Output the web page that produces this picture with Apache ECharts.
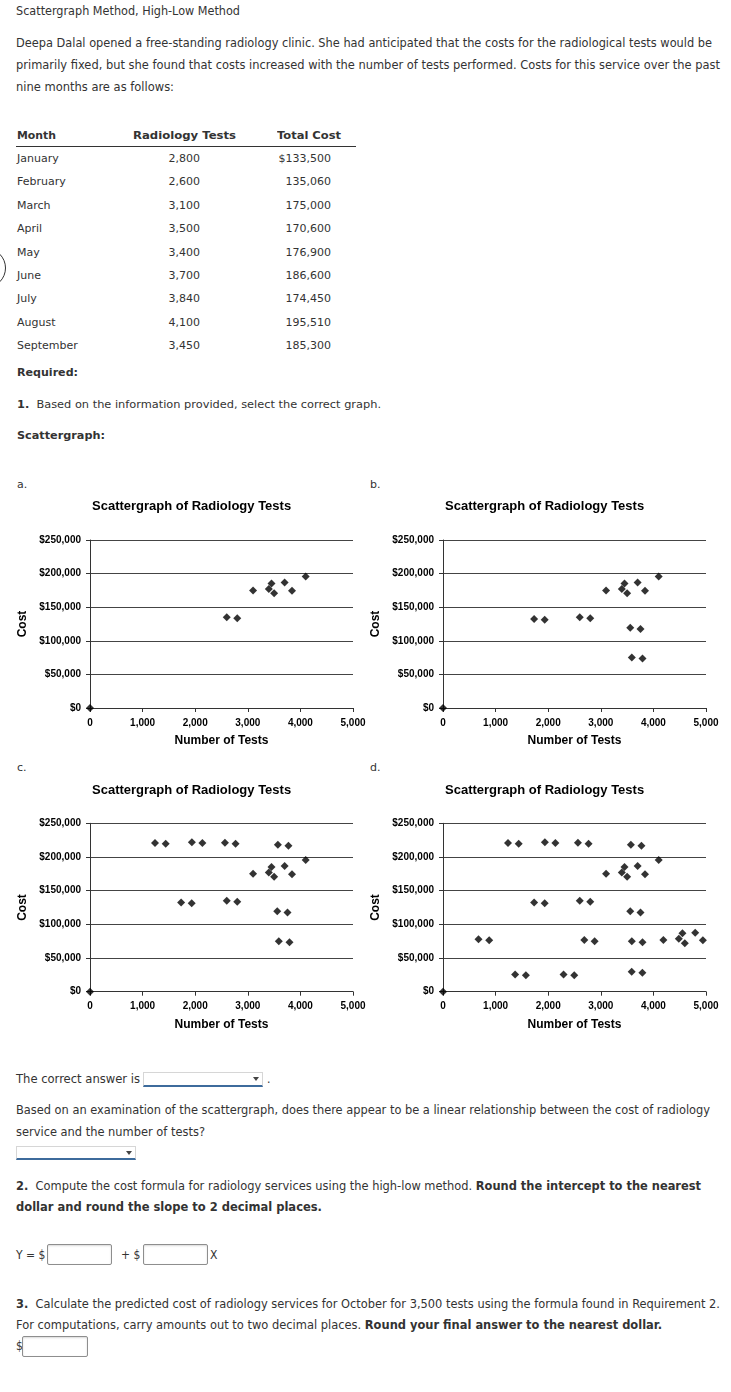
<!DOCTYPE html>
<html><head><meta charset="utf-8">
<script src="https://cdn.jsdelivr.net/npm/echarts@6/dist/echarts.min.js"></script>
<style>
html,body{margin:0;padding:0;background:#fff;}
body{width:731px;height:1392px;position:relative;overflow:hidden;color:#333;}
.t{position:absolute;left:16px;height:20px;line-height:20px;white-space:nowrap;font-family:'DejaVu Sans Condensed','DejaVu Sans',sans-serif;font-size:12px;transform-origin:0 50%;}
.v{font-family:'DejaVu Sans',sans-serif;font-size:11px;}
.cell{position:absolute;height:20px;line-height:20px;white-space:nowrap;font-family:'DejaVu Sans',sans-serif;font-size:11px;color:#333;transform-origin:0 50%;}
.chart{position:absolute;}
.sel{position:absolute;background:#fff;border:1px solid #d6d6d6;border-bottom:2px solid #3d6b9c;box-sizing:border-box;}
.sel:after{content:'';position:absolute;right:3px;top:4px;border-left:3px solid transparent;border-right:3px solid transparent;border-top:4px solid #444;}
.inp{position:absolute;background:#fff;border:1px solid #8e8e8e;border-radius:2px;box-sizing:border-box;box-shadow:inset 0 1px 2px rgba(0,0,0,0.15);}
</style></head>
<body>
<div class="t fit" data-w="224" style="top:1px;">Scattergraph Method, High-Low Method</div>
<div class="t fit" data-w="696" style="top:33px;">Deepa Dalal opened a free-standing radiology clinic. She had anticipated that the costs for the radiological tests would be</div>
<div class="t fit" data-w="704" style="top:55px;">primarily fixed, but she found that costs increased with the number of tests performed. Costs for this service over the past</div>
<div class="t fit" data-w="158" style="top:77px;">nine months are as follows:</div>

<div id="table"></div>
<div style="position:absolute;left:16px;top:146px;width:340px;height:0;border-top:1.5px solid #333;"></div>

<div class="t v fit" data-w="61" style="top:363px;left:17px;font-weight:bold;">Required:</div>
<div class="t v fit" data-w="364" style="top:395px;left:17px;"><b>1.</b>&nbsp; Based on the information provided, select the correct graph.</div>
<div class="t v fit" data-w="88" style="top:426px;left:17px;font-weight:bold;">Scattergraph:</div>

<div class="t v" style="top:475px;left:17px;">a.</div>
<div class="t v" style="top:475px;left:370px;">b.</div>
<div class="t v" style="top:758px;left:17px;">c.</div>
<div class="t v" style="top:758px;left:370px;">d.</div>

<div id="ca" class="chart" style="left:0;top:490px;width:370px;height:270px;"></div>
<div id="cb" class="chart" style="left:370px;top:490px;width:361px;height:270px;"></div>
<div id="cc" class="chart" style="left:0;top:770px;width:370px;height:270px;"></div>
<div id="cd" class="chart" style="left:370px;top:770px;width:361px;height:270px;"></div>

<div style="position:absolute;left:-34px;top:248px;width:38px;height:38px;border:1.5px solid #333;border-radius:50%;"></div>

<div class="t fit" data-w="124" style="top:1069px;">The correct answer is</div>
<div class="sel" style="left:143px;top:1072px;width:120px;height:15px;"></div>
<div class="t" style="top:1069px;left:267px;">.</div>
<div class="t fit" data-w="694" style="top:1100px;">Based on an examination of the scattergraph, does there appear to be a linear relationship between the cost of radiology</div>
<div class="t fit" data-w="189" style="top:1122px;">service and the number of tests?</div>
<div class="sel" style="left:16px;top:1146px;width:120px;height:14px;"></div>

<div class="t fit" data-w="685" style="top:1176px;"><b>2.</b>&nbsp; Compute the cost formula for radiology services using the high-low method. <b>Round the intercept to the nearest</b></div>
<div class="t fit" data-w="306" style="top:1197px;font-weight:bold;">dollar and round the slope to 2 decimal places.</div>

<div class="t" style="top:1245px;">Y = $</div>
<div class="inp" style="left:47px;top:1244px;width:65px;height:21px;"></div>
<div class="t" style="top:1245px;left:121px;">+ $</div>
<div class="inp" style="left:143px;top:1244px;width:65px;height:21px;"></div>
<div class="t" style="top:1245px;left:210px;">X</div>

<div class="t fit" data-w="704" style="top:1294px;"><b>3.</b>&nbsp; Calculate the predicted cost of radiology services for October for 3,500 tests using the formula found in Requirement 2.</div>
<div class="t fit" data-w="646" style="top:1315px;">For computations, carry amounts out to two decimal places. <b>Round your final answer to the nearest dollar.</b></div>
<div class="t" style="top:1336px;">$</div>
<div class="inp" style="left:22px;top:1336px;width:66px;height:21px;"></div>

<script>
// ---- data ----
const months = ['January','February','March','April','May','June','July','August','September'];
const tests = [2800,2600,3100,3500,3400,3700,3840,4100,3450];
const costs = [133500,135060,175000,170600,176900,186600,174450,195510,185300];
const originTests = [0];
const originCosts = [0];
const extraBTests = [1733,1933,3560,3755,3590,3793];
const extraBCosts = [132400,131200,119300,117500,75000,73500];
const extraCTests = [1236,1439,1937,2136,2565,2767,3572,3772];
const extraCCosts = [220800,219500,222000,220800,221000,219500,218300,216800];
const extraDTests = [675,878,2686,2883,4190,4483,4552,4597,4794,4940,1371,1575,2292,2495,3587,3790];
const extraDCosts = [77700,76200,76700,74750,76700,78700,86600,71800,87600,76200,25700,24300,25700,24300,29700,28200];
const xTicks = [0,1000,2000,3000,4000,5000];
const yTicks = [0,50000,100000,150000,200000,250000];
const tableHeaders = ['Month','Radiology Tests','Total Cost'];

// ---- table ----
const tb = document.getElementById('table');
function cell(txt, style, bold, fitW){
  const d = document.createElement('div');
  d.className='cell'; d.textContent=txt; d.style.cssText += style;
  if(bold) d.style.fontWeight='bold';
  if(fitW){ d.classList.add('fit'); d.dataset.w = fitW; }
  tb.appendChild(d);
}
cell(tableHeaders[0],'left:17px;top:126px;',true,39);
cell(tableHeaders[1],'left:133px;top:126px;',true,103);
cell(tableHeaders[2],'left:277px;top:126px;',true,64);
months.forEach((m,i)=>{
  const top = 159 + i*23.375 - 10;
  cell(m,'left:17px;top:'+top+'px;');
  cell(tests[i].toLocaleString('en-US'),'right:'+(731-200)+'px;top:'+top+'px;');
  cell((i===0?'$':'')+costs[i].toLocaleString('en-US'),'right:'+(731-331)+'px;top:'+top+'px;');
});

// ---- fit text widths ----
document.querySelectorAll('.fit').forEach(el=>{
  const w = el.getBoundingClientRect().width;
  const target = +el.dataset.w;
  if (w>0) el.style.transform = 'scaleX(' + (target/w) + ')';
});

// ---- charts ----
const F = "'Liberation Sans', Arial, sans-serif";
function pts(xsList, ysList){
  const out=[];
  xsList.forEach((xs,k)=>xs.forEach((x,i)=>out.push([x, ysList[k][i]])));
  return out;
}
const dataA = pts([originTests,tests],[originCosts,costs]);
const dataB = pts([originTests,tests,extraBTests],[originCosts,costs,extraBCosts]);
const dataC = pts([originTests,tests,extraBTests,extraCTests],[originCosts,costs,extraBCosts,extraCCosts]);
const dataD = pts([originTests,tests,extraBTests,extraCTests,extraDTests],[originCosts,costs,extraBCosts,extraCCosts,extraDCosts]);

function makeChart(id, data, g){
  const ch = echarts.init(document.getElementById(id), null, {renderer:'canvas'});
  ch.setOption({
    animation:false,
    title:{text:'Scattergraph of Radiology Tests', left:g.tl, top:g.tt, padding:0,
      textStyle:{fontFamily:F,fontSize:13,fontWeight:'bold',color:'#000'}},
    grid:{left:g.l,right:g.r,top:g.t,bottom:g.b,containLabel:false,outerBoundsMode:'none'},
    xAxis:{type:'value',min:xTicks[0],max:xTicks[xTicks.length-1],interval:xTicks[1]-xTicks[0],
      name:'Number of Tests',nameLocation:'middle',nameGap:27,
      nameTextStyle:{fontFamily:F,fontSize:12,fontWeight:'bold',color:'#000'},
      axisLine:{show:true,onZero:false,lineStyle:{color:'#333',width:1}},
      axisTick:{show:true,length:4,lineStyle:{color:'#333'}},
      axisLabel:{margin:10,fontFamily:F,fontSize:10,fontWeight:'bold',color:'#000',
        formatter:v=>v.toLocaleString('en-US')},
      splitLine:{show:false}},
    yAxis:{type:'value',min:yTicks[0],max:yTicks[yTicks.length-1],interval:yTicks[1]-yTicks[0],
      name:'Cost',nameLocation:'middle',nameRotate:90,nameGap:g.ng,
      nameTextStyle:{fontFamily:F,fontSize:12,fontWeight:'bold',color:'#000'},
      axisLine:{show:true,onZero:false,lineStyle:{color:'#333',width:1}},
      axisTick:{show:true,length:4,lineStyle:{color:'#333'}},
      axisLabel:{margin:9,fontFamily:F,fontSize:10,fontWeight:'bold',color:'#000',
        formatter:v=>'$'+v.toLocaleString('en-US')},
      splitLine:{show:true,lineStyle:{color:'#444',width:1}}},
    series:[{type:'scatter',symbol:'diamond',symbolSize:8,clip:false,
      itemStyle:{color:'#000'},data:data}]
  });
}
makeChart('ca', dataA, {tl:92, tt:10, l:90, r:17, t:50, b:52, ng:55});
makeChart('cb', dataB, {tl:75, tt:10, l:73, r:25, t:50, b:52, ng:55});
makeChart('cc', dataC, {tl:92, tt:14, l:90, r:17, t:53.3, b:48.3, ng:55});
makeChart('cd', dataD, {tl:75, tt:14, l:73, r:25, t:53.3, b:48.3, ng:55});
</script>
</body></html>
